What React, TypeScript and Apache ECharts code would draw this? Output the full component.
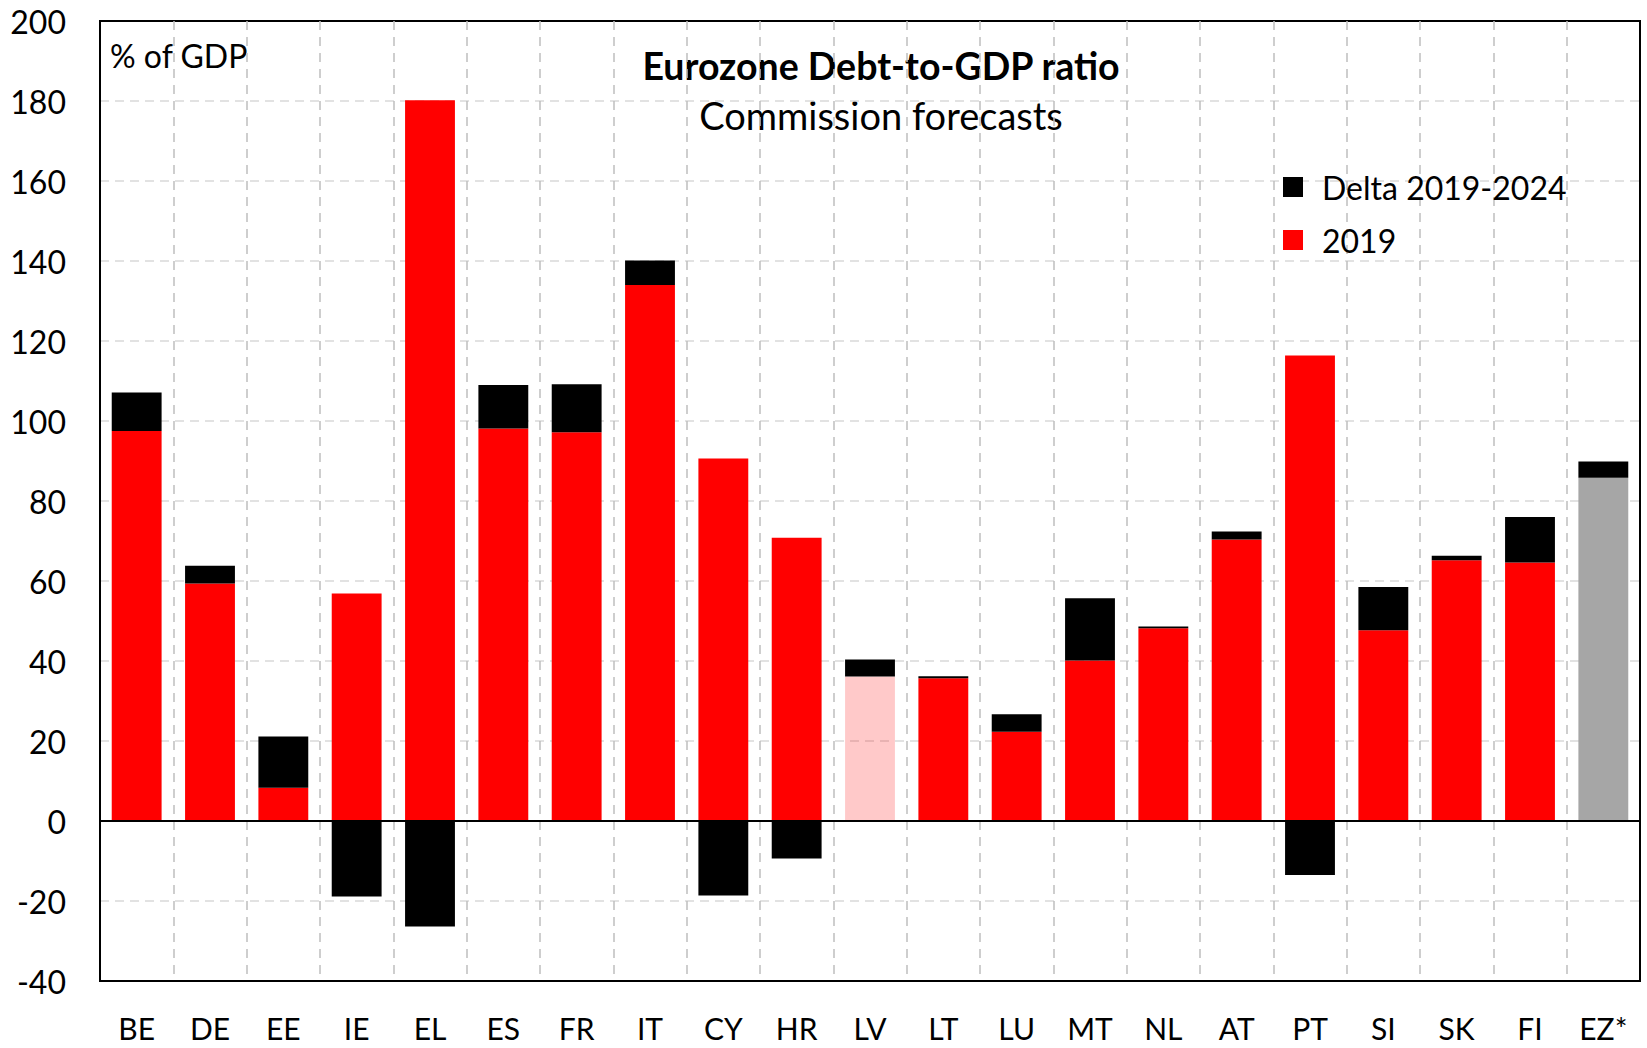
import React, { useEffect, useRef } from "react";
import * as echarts from "echarts";

const categories = ["BE", "DE", "EE", "IE", "EL", "ES", "FR", "IT", "CY", "HR", "LV", "LT", "LU", "MT", "NL", "AT", "PT", "SI", "SK", "FI", "EZ*"];
const debt2019 = [97.5, 59.4, 8.3, 56.9, 180.2, 98.1, 97.2, 134.0, 90.6, 70.8, 36.1, 35.7, 22.3, 40.1, 48.2, 70.4, 116.4, 47.7, 65.2, 64.6, 85.8];
const delta2019to2024 = [9.6, 4.4, 12.8, -18.9, -26.4, 10.9, 12.0, 6.1, -18.6, -9.4, 4.3, 0.5, 4.4, 15.6, 0.4, 2.0, -13.5, 10.8, 1.1, 11.4, 4.1];
const yMin = -40;
const yMax = 200;
const yStep = 20;
const seriesNames = ["2019", "Delta 2019-2024"];
const titleText = "Eurozone Debt-to-GDP ratio";
const subtitleText = "Commission forecasts";
const unitText = "% of GDP";

// styles kept apart from data
const specialColors: Record<string, string> = {
  LV: "rgba(255,0,0,0.21)",
  "EZ*": "#A6A6A6",
};
const FONT = "Lato";

export default function App() {
  const ref = useRef<HTMLDivElement>(null);
  useEffect(() => {
    if (!ref.current) return;
    const chart = echarts.init(ref.current, null, { renderer: "svg" });
    const baseData = debt2019.map((v, i) => {
      const c = specialColors[categories[i]];
      return c ? { value: v, itemStyle: { color: c } } : v;
    });
    chart.setOption({
      animation: false,
      backgroundColor: "#fff",
      grid: {
        left: 100,
        right: 7,
        top: 21,
        bottom: 67,
        show: true,
        borderColor: "#000",
        borderWidth: 2,
        containLabel: false,
      },
      legend: {
        data: [seriesNames[1], seriesNames[0]],
        orient: "vertical",
        left: 1278,
        top: 166,
        itemWidth: 20,
        itemHeight: 20,
        itemGap: 21,
        icon: "rect",
        textStyle: { fontFamily: FONT, fontSize: 32, color: "#000", padding: [0, 0, 0, 14] },
      },
      xAxis: {
        type: "category",
        data: categories,
        position: "bottom",
        axisLine: { onZero: false, show: false },
        axisTick: { show: false },
        axisLabel: { fontFamily: FONT, fontSize: 30, lineHeight: 30, color: "#000", margin: 32, interval: 0 },
        splitLine: { show: true, interval: 0, showMinLine: false, showMaxLine: false, lineStyle: { color: "#BFBFBF", type: [9, 7], width: 1.5 } },
      },
      yAxis: {
        type: "value",
        min: yMin,
        max: yMax,
        interval: yStep,
        axisLine: { show: true, lineStyle: { color: "#000", width: 2 } },
        axisTick: { show: false },
        axisLabel: { fontFamily: FONT, fontSize: 32, color: "#000", margin: 34 },
        splitLine: { show: true, showMinLine: false, showMaxLine: false, lineStyle: { color: "#D9D9D9", type: [9, 6], width: 1.5 } },
      },
      graphic: [
        {
          type: "text",
          x: 881,
          y: 65,
          style: { text: titleText, fontFamily: FONT, fontSize: 37.5, fontWeight: "bold", fill: "#000", align: "center", verticalAlign: "middle" },
        },
        {
          type: "text",
          x: 881,
          y: 115,
          style: { text: subtitleText, fontFamily: FONT, fontSize: 38, fill: "#000", align: "center", verticalAlign: "middle" },
        },
        {
          type: "text",
          x: 110,
          y: 55,
          style: { text: unitText, fontFamily: FONT, fontSize: 32, fill: "#000", align: "left", verticalAlign: "middle" },
        },
      ],
      series: [
        {
          name: seriesNames[0],
          type: "bar",
          stack: "total",
          barCategoryGap: "32%",
          itemStyle: { color: "#FF0000" },
          data: baseData,
        },
        {
          name: seriesNames[1],
          type: "bar",
          stack: "total",
          barCategoryGap: "32%",
          itemStyle: { color: "#000000" },
          data: delta2019to2024,
          markLine: {
            silent: true,
            symbol: ["none", "none"],
            label: { show: false },
            lineStyle: { color: "#000", width: 2, type: "solid" },
            data: [{ yAxis: 0 }],
            z: 10,
          },
        },
      ],
    });
    return () => chart.dispose();
  }, []);
  return <div ref={ref} style={{ position: "fixed", left: 0, top: 0, width: 1647, height: 1048 }} />;
}
